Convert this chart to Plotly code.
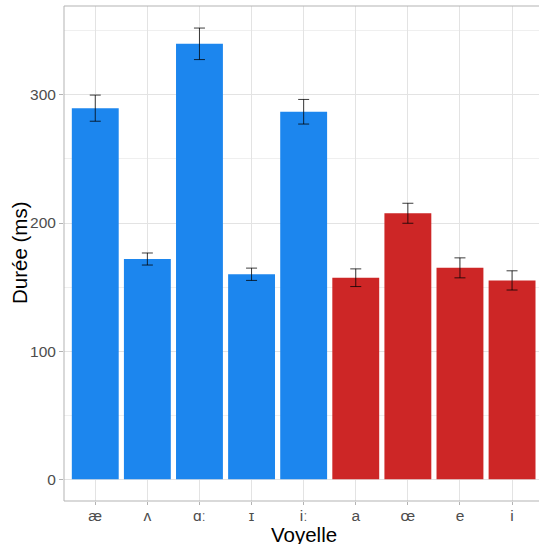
import plotly.graph_objects as go

voyelles = ["æ", "ʌ", "ɑː", "ɪ", "iː", "a", "œ", "e", "i"]
langue = ["anglais", "anglais", "anglais", "anglais", "anglais",
          "français", "français", "français", "français"]
duree = [289.6, 171.9, 339.8, 160.0, 286.8, 157.3, 207.6, 165.0, 155.2]
erreur = [10.2, 4.7, 12.3, 4.8, 9.6, 6.9, 7.8, 7.8, 7.5]
y_ticks = [0, 100, 200, 300]

couleurs = {"anglais": "#1C86EE", "français": "#CD2626"}
bar_colors = [couleurs[g] for g in langue]

fig = go.Figure()
fig.add_trace(go.Bar(
    x=voyelles, y=duree,
    marker=dict(color=bar_colors, line=dict(width=0)),
    error_y=dict(type="data", array=erreur, visible=True,
                 color="rgba(0,0,0,0.85)", thickness=0.9, width=5.5),
    showlegend=False,
))

grid = "#e3e3e3"
fig.update_layout(
    width=539, height=544,
    margin=dict(l=64, r=0, t=6, b=43),
    paper_bgcolor="white", plot_bgcolor="white",
    bargap=0.1,
    font=dict(family="Liberation Sans, Arial", color="#4d4d4d"),
    xaxis=dict(
        type="category", range=[-0.6, 8.517], automargin=False,
        showgrid=True, gridcolor=grid, gridwidth=1,
        ticks="outside", ticklen=3, tickcolor="#b3b3b3",
        ticklabelstandoff=-3,
        tickfont=dict(size=15.5, color="#4d4d4d"),
        showline=False, zeroline=False,
    ),
    yaxis=dict(
        range=[-16.9, 369.3], automargin=False,
        tickvals=y_ticks,
        showgrid=True, gridcolor=grid, gridwidth=1,
        minor=dict(dtick=50, showgrid=True, gridcolor="#efefef", gridwidth=0.6, ticks=""),
        ticks="outside", ticklen=4, tickcolor="#b3b3b3",
        tickfont=dict(size=15.5, color="#4d4d4d"),
        showline=False, zeroline=False,
    ),
)

fig.add_annotation(text="Voyelle", xref="paper", yref="paper", x=0.5044, y=-0.0675,
                   xanchor="center", yanchor="middle", showarrow=False,
                   font=dict(size=20.5, color="black", family="Liberation Sans, Arial"))
fig.add_annotation(text="Durée (ms)", xref="paper", yref="paper", x=-0.0947, y=0.501,
                   xanchor="center", yanchor="middle", showarrow=False, textangle=-90,
                   font=dict(size=20.5, color="black", family="Liberation Sans, Arial"))

border = dict(color="#b3b3b3", width=1)
fig.add_shape(type="line", xref="paper", yref="paper", x0=0, x1=1.02, y0=1, y1=1, line=border)
fig.add_shape(type="line", xref="paper", yref="paper", x0=0, x1=1.02, y0=0, y1=0, line=border)
fig.add_shape(type="line", xref="paper", yref="paper", x0=0, x1=0, y0=0, y1=1, line=border)

fig.write_html("out.html", config={"displayModeBar": False},
               post_script="document.body.style.margin='0';document.body.style.overflow='hidden';")
